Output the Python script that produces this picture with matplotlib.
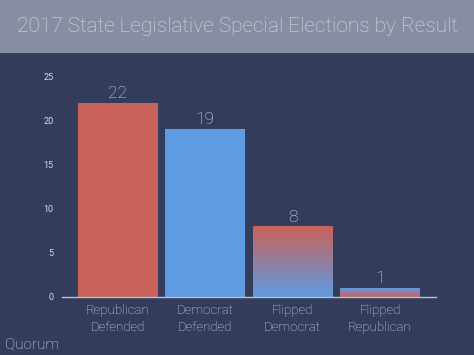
import numpy as np
import matplotlib
matplotlib.use("Agg")
import matplotlib.pyplot as plt
from matplotlib.colors import LinearSegmentedColormap
from matplotlib.patches import Rectangle

# data
categories = ["Republican\nDefended", "Democrat\nDefended", "Flipped\nDemocrat", "Flipped\nRepublican"]
values = [22, 19, 8, 1]
yticks = [0, 5, 10, 15, 20, 25]

bg = "#333c5a"
band = "#878ea2"
red = "#c9625a"
blue = "#5f9be2"
txt = "#d9dce6"

plt.rcParams["font.family"] = ["Roboto", "DejaVu Sans"]

fig = plt.figure(figsize=(4.74, 3.55), dpi=100, facecolor=bg)
fig.patches.append(Rectangle((0, 1 - 53 / 355), 1, 53 / 355, transform=fig.transFigure,
                             facecolor=band, edgecolor="none", zorder=0))
fig.text(0.5, 1 - 27 / 355, "2017 State Legislative Special Elections by Result",
         ha="center", va="center", color=txt, fontsize=15, fontweight="light")
fig.text(5 / 474, 1 - 344 / 355, "Quorum", ha="left", va="center", color=txt,
         fontsize=11, fontweight="light")

ax = fig.add_axes([62 / 474, 58 / 355, 374 / 474, 221 / 355])
ax.set_facecolor(bg)

x = np.arange(len(values))
w = 0.915
grad_r2b = LinearSegmentedColormap.from_list("rb", [blue, red])
grad_b2r = LinearSegmentedColormap.from_list("br", [red, blue])
fills = [red, blue, grad_r2b, grad_b2r]
grad = np.linspace(0, 1, 256).reshape(-1, 1)
for xi, v, f in zip(x, values, fills):
    if isinstance(f, str):
        ax.bar(xi, v, width=w, color=f, zorder=2)
    else:
        ax.imshow(grad, cmap=f, aspect="auto", origin="lower",
                  extent=(xi - w / 2, xi + w / 2, 0, v), zorder=2)
    ax.text(xi, v + 0.2, str(v), ha="center", va="bottom", color=txt,
            fontsize=12.5, fontweight="light")

ax.set_xlim(-0.641, 3.641)
ax.set_ylim(0, 25)
ax.set_xticks(x)
ax.set_xticklabels(categories, color=txt, fontsize=9.5, fontweight="light", linespacing=1.45)
ax.set_yticks(yticks)
ax.set_yticklabels([str(t) for t in yticks], color=txt, fontsize=6.5)
ax.tick_params(axis="both", length=0)
ax.tick_params(axis="y", pad=6)
ax.tick_params(axis="x", pad=5)
for s in ["top", "right", "left"]:
    ax.spines[s].set_visible(False)
ax.spines["bottom"].set_color("#b9bed0")
ax.spines["bottom"].set_linewidth(1)
ax.spines["bottom"].set_zorder(3)

fig.savefig("out.png", dpi=100, facecolor=bg)
